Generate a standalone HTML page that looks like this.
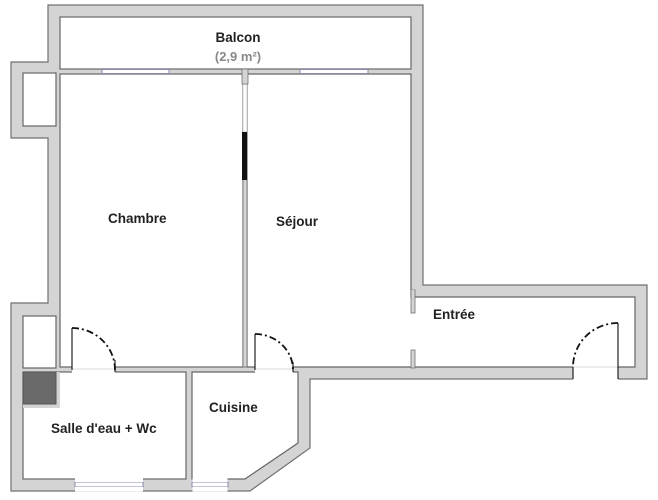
<!DOCTYPE html>
<html><head><meta charset="utf-8"><style>
html,body{margin:0;padding:0;background:#fff;}
svg{display:block}
text{font-family:"Liberation Sans",sans-serif;font-weight:bold;font-size:13.5px;fill:#222}
</style></head><body>
<svg width="658" height="500" viewBox="0 0 658 500" xmlns="http://www.w3.org/2000/svg">
<rect width="658" height="500" fill="#fff"/>
<!-- outer shell -->
<polygon points="48,5 423,5 423,285 647,285 647,379 310,379 310,448 250,491 11,491 11,303 48,303 48,138 11,138 11,62 48,62" fill="#d4d4d4" stroke="#707070" stroke-width="1.2"/>
<g fill="#fff" stroke="#666" stroke-width="1.2">
<rect x="60" y="17" width="351" height="52"/>
<rect x="23" y="73" width="33" height="53"/>
<rect x="60" y="74" width="183" height="293"/>
<polygon points="247,74 411,74 411,297 635,297 635,367 247,367"/>
<rect x="23" y="316" width="33" height="52"/>
<rect x="23" y="372" width="163" height="107"/>
<polygon points="192,372 298,372 298,443 245,479 192,479"/>
</g>
<!-- dark square -->
<rect x="23" y="372" width="37" height="36" fill="#d4d4d4"/>
<rect x="23" y="372" width="33" height="32" fill="#6a6a6a" stroke="#555"/>
<!-- divider chambre/sejour -->
<rect x="243" y="74" width="4" height="293" fill="#d4d4d4" stroke="#707070" stroke-width="0.8"/>
<rect x="243" y="84" width="4" height="48" fill="#fff" stroke="#aaa" stroke-width="0.6"/>
<rect x="242" y="132" width="5" height="48" fill="#111"/>
<rect x="242" y="69" width="6" height="15" fill="#d4d4d4" stroke="#707070" stroke-width="0.8"/>
<!-- entree partition stubs -->
<rect x="411" y="290" width="4" height="23" fill="#d4d4d4" stroke="#707070" stroke-width="0.8"/>
<rect x="411" y="350" width="4" height="18" fill="#d4d4d4" stroke="#707070" stroke-width="0.8"/>
<rect x="411.5" y="290" width="3" height="8" fill="#d4d4d4"/>
<!-- balcony windows -->
<g fill="#fff" stroke="#8a8ab0" stroke-width="1">
<rect x="102" y="69.5" width="67" height="4"/>
<rect x="300" y="69.5" width="68" height="4"/>
<rect x="75" y="482" width="68" height="5"/>
<rect x="192" y="482" width="36" height="5"/>
</g>
<g fill="#fff" stroke="none">
<rect x="75" y="478" width="68" height="4"/><rect x="75" y="487" width="68" height="4.5"/>
<rect x="192.5" y="478" width="35" height="4"/><rect x="192.5" y="487" width="35" height="4.5"/>
</g>
<!-- door openings -->
<g fill="#fff">
<rect x="72" y="366" width="43" height="7"/>
<rect x="255" y="366" width="38" height="7"/>
<rect x="573" y="366" width="45" height="15"/>
</g>
<g stroke="#ccc" stroke-width="0.8">
<line x1="72" y1="369" x2="115" y2="369"/>
<line x1="255" y1="369" x2="293" y2="369"/>
<line x1="573" y1="367" x2="618" y2="367"/>
</g>
<!-- door leaves and arcs -->
<g stroke="#222" stroke-width="1.2" fill="none">
<line x1="72" y1="328" x2="72" y2="370"/>
<line x1="255" y1="334" x2="255" y2="370"/>
<line x1="618" y1="323" x2="618" y2="379"/>
<line x1="573" y1="367" x2="573" y2="379"/>
<line x1="115" y1="360" x2="115" y2="372"/>
<line x1="293" y1="362" x2="293" y2="372"/>
</g>
<g stroke="#111" stroke-width="1.8" fill="none" stroke-dasharray="7,3,2,3">
<path d="M72,328 A43,42 0 0 1 115,370"/>
<path d="M255,334 A38,36 0 0 1 293,370"/>
<path d="M618,323 A45,44 0 0 0 573,367"/>
</g>
<!-- labels -->
<text x="238" y="42" text-anchor="middle">Balcon</text>
<text x="238" y="61" text-anchor="middle" style="fill:#888;font-size:13px">(2,9 m²)</text>
<text x="108" y="223">Chambre</text>
<text x="276" y="226">Séjour</text>
<text x="433" y="319">Entrée</text>
<text x="51" y="433">Salle d'eau + Wc</text>
<text x="209" y="412">Cuisine</text>
</svg>
</body></html>
